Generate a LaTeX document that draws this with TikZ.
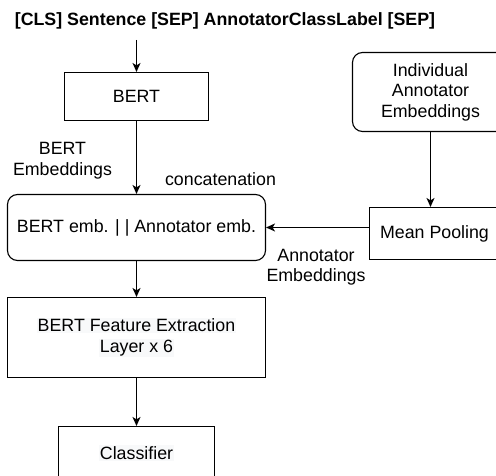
\documentclass[tikz,border=0pt]{standalone}
\usepackage{fontspec}
\setmainfont{Liberation Sans}
\usepackage{xcolor}
\usetikzlibrary{positioning,arrows.meta}
\definecolor{textbg}{HTML}{F8F9FA}
\setlength{\fboxsep}{1pt}
\newcommand{\hl}[1]{\colorbox{textbg}{#1}}

\begin{document}
\begin{tikzpicture}[x=1pt,y=-1pt,node distance=2cm,on grid,
    font=\fontsize{17.8}{20.5}\selectfont,
    block/.style={draw,line width=1.1pt,align=center,inner sep=0pt},
    rblock/.style={block,rounded corners=10pt},
    lbl/.style={align=center,inner sep=0pt},
    >={Stealth[length=9pt,width=8pt,inset=2.5pt]}]
    \useasboundingbox (0,0) rectangle (496,476);
    \clip (0,0) rectangle (496,476);
    \node[lbl,font=\fontsize{17.8}{20.5}\selectfont\bfseries] (title) at (225,21) {[CLS] Sentence [SEP] AnnotatorClassLabel [SEP]};
    \coordinate (input) at (136.5,40);
    \node[block,minimum width=144pt,minimum height=48pt] (bert) at (136.5,96.5) {BERT};
    \node[rblock,minimum width=258pt,minimum height=66pt] (concat) [below=131pt of bert] {BERT emb. | | Annotator emb.};
    \node[block,minimum width=258pt,minimum height=80pt] (feat) [below=110pt of concat] {\hl{BERT Feature Extraction}\\\hl{Layer x 6}};
    \node[block,minimum width=156pt,minimum height=53pt] (cls) [below=115.5pt of feat] {\hl{Classifier}};
    \node[rblock,minimum width=156pt,minimum height=79pt] (indiv) at (430.5,92) {Individual\\Annotator\\Embeddings};
    \node[block,minimum width=130pt,minimum height=52pt] (pool) [below right=141.5pt and 4pt of indiv] {Mean Pooling};
    % edge labels
    \node[lbl] (bertemb) at (62.5,160.5) {BERT\\Embeddings};
    \node[lbl] (concatlbl) at (220.5,179) {concatenation};
    \node[lbl] (annemb) at (316,267) {Annotator\\Embeddings};
    \path[->,line width=1.1pt]
    (input)  edge (bert)
    (bert)   edge (concat)
    (indiv)  edge (indiv.south |- pool.north)
    (concat.east -| pool.west) edge (concat)
    (concat) edge (feat)
    (feat)   edge (cls);
  \end{tikzpicture}
\end{document}
